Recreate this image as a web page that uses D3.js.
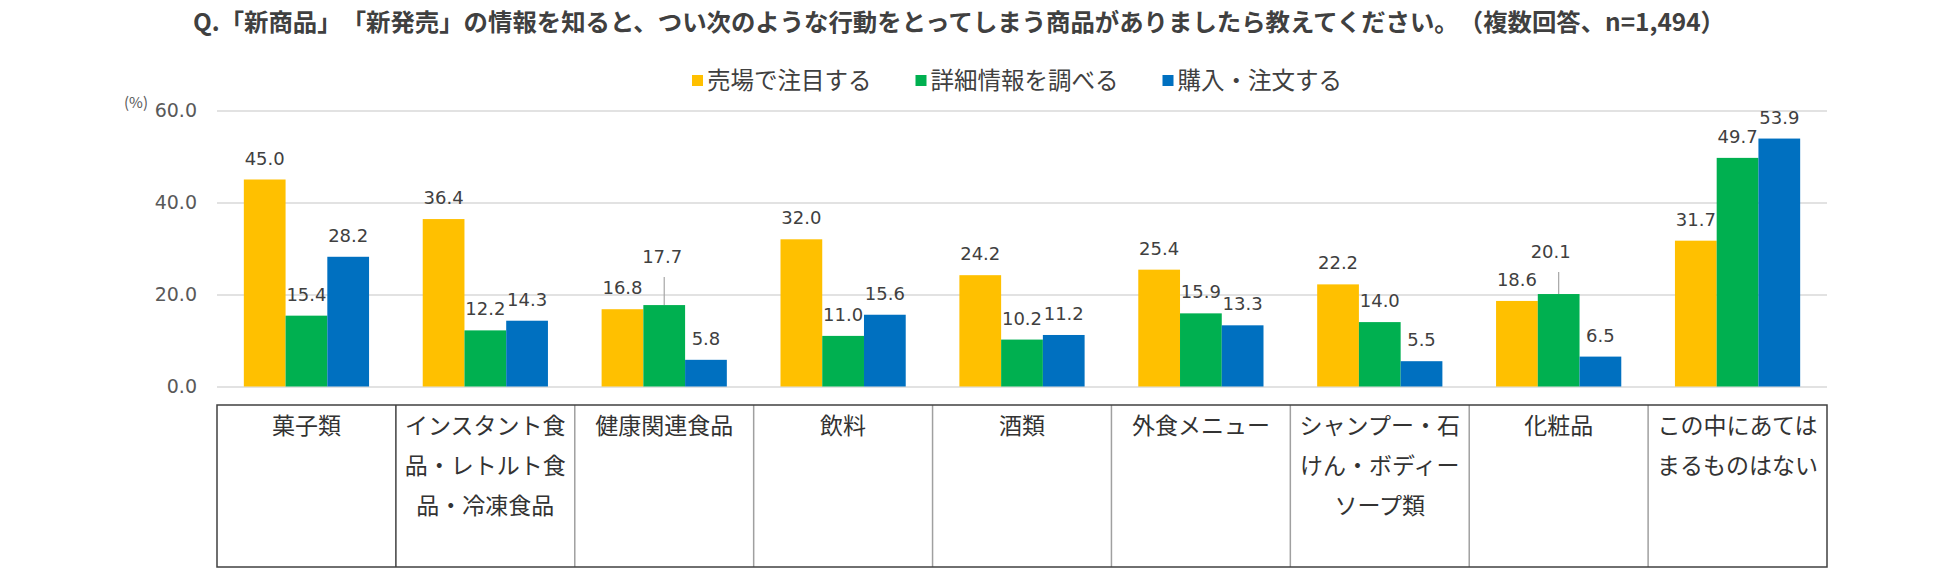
<!DOCTYPE html>
<html><head><meta charset="utf-8">
<script src="https://cdn.jsdelivr.net/npm/d3@7"></script>
<style>
html,body{margin:0;padding:0;background:#fff;}
svg{display:block;font-family:"Noto Sans CJK JP","Noto Sans",sans-serif;}
svg text{text-spacing-trim:space-all;}
.num{font-family:"DejaVu Sans",sans-serif;}
</style></head>
<body><svg id="c" width="1950" height="569"></svg>
<script>
const title = "Q.「新商品」「新発売」の情報を知ると、つい次のような行動をとってしまう商品がありましたら教えてください。（複数回答、n=1,494）";
const categories = ["菓子類","インスタント食品・レトルト食品・冷凍食品","健康関連食品","飲料","酒類","外食メニュー","シャンプー・石けん・ボディーソープ類","化粧品","この中にあてはまるものはない"];
const seriesNames = ["売場で注目する","詳細情報を調べる","購入・注文する"];
const seriesColors = ["#FFC000","#00B050","#0070C0"];
const notice   = [45.0,36.4,16.8,32.0,24.2,25.4,22.2,18.6,31.7];
const research = [15.4,12.2,17.7,11.0,10.2,15.9,14.0,20.1,49.7];
const purchase = [28.2,14.3,5.8,15.6,11.2,13.3,5.5,6.5,53.9];
const yTicks = [0,20,40,60];
const unitLabel = "(%)";

const seriesValues = [notice, research, purchase];
const svg = d3.select("#c");
const L = 217, R = 1827, T = 110.5, B = 386.5;
const x0 = d3.scaleBand().domain(categories).range([L,R]).paddingInner(0.3).paddingOuter(0.15);
const x1 = d3.scaleBand().domain(seriesNames).range([0,x0.bandwidth()]);
const y = d3.scaleLinear().domain([0,60]).range([B,T]);

// title
svg.append("text").attr("x",959).attr("y",31).attr("text-anchor","middle")
  .attr("font-size",24.4).attr("font-weight","bold").attr("fill","#404040").text(title);

// legend
const lg = svg.append("g");
let lx = 0;
seriesNames.forEach((s,i)=>{
  const g = lg.append("g").attr("transform",`translate(${lx},0)`);
  g.append("rect").attr("x",0).attr("y",-6).attr("width",11).attr("height",11).attr("fill",seriesColors[i]);
  const t = g.append("text").attr("x",15).attr("y",0).attr("dy","0.35em").attr("font-size",23.5).attr("fill","#404040").text(s);
  lx += 15 + t.node().getComputedTextLength() + 44;
});
lx -= 44;
lg.attr("transform",`translate(${1017 - lx/2},81)`);

// grid
const yAxis = d3.axisLeft(y).tickValues(yTicks).tickSize(-(R-L)).tickFormat(d3.format(".1f"));
const ga = svg.append("g").attr("transform",`translate(${L},0)`).call(yAxis);
ga.select(".domain").remove();
ga.selectAll(".tick line").attr("stroke","#d9d9d9").attr("stroke-width",1.3);
ga.selectAll(".tick text").attr("x",-20).attr("font-size",19).attr("fill","#595959")
  .attr("font-family","'DejaVu Sans',sans-serif");
svg.append("text").attr("x",148).attr("y",108).attr("text-anchor","end").attr("font-size",15).attr("fill","#595959").text(unitLabel);

// bars
const groups = svg.append("g").selectAll("g").data(categories).join("g")
  .attr("transform",d=>`translate(${x0(d)},0)`);
seriesNames.forEach((s,si)=>{
  groups.append("rect")
    .attr("x",x1(s)).attr("width",x1.bandwidth())
    .attr("y",(d,ci)=>y(seriesValues[si][ci]))
    .attr("height",(d,ci)=>B - y(seriesValues[si][ci]))
    .attr("fill",seriesColors[si]);
});

// labels (a couple use leader lines)
const leaders = {"健康関連食品|1":{lift:27,dx:-2},"化粧品|1":{lift:21,dx:-8}};
seriesNames.forEach((s,si)=>{
  categories.forEach((c,ci)=>{
    const v = seriesValues[si][ci];
    const cx = x0(c) + x1(s) + x1.bandwidth()/2;
    const top = y(v);
    const ld = leaders[c+"|"+si];
    let base = top - 15;
    let dx = 0;
    if (ld){
      base = top - 15 - ld.lift; dx = ld.dx;
      svg.append("line").attr("x1",cx).attr("x2",cx).attr("y1",base+14).attr("y2",top)
        .attr("stroke","#a6a6a6").attr("stroke-width",1.2);
    }
    svg.append("text").attr("class","num").attr("x",cx+dx).attr("y",base).attr("text-anchor","middle")
      .attr("font-size",18).attr("fill","#404040").text(d3.format(".1f")(v));
  });
});

// table
const tT = 405, tB = 567;
const tbl = svg.append("g");
categories.forEach((c,ci)=>{
  const xs = x0.step();
  const left = L + ci*xs;
  const cx = left + xs/2;
  const t = tbl.append("text").attr("text-anchor","middle").attr("font-size",23).attr("fill","#333");
  const chars = Array.from(c);
  let lines = [], cur = "";
  const meas = tbl.append("text").attr("font-size",23).attr("visibility","hidden");
  chars.forEach(ch=>{
    meas.text(cur+ch);
    if (meas.node().getComputedTextLength() > 170 && cur){ lines.push(cur); cur = ch; }
    else cur += ch;
  });
  if (cur) lines.push(cur);
  meas.remove();
  lines.forEach((ln,li)=>{
    t.append("tspan").attr("x",cx).attr("y",426 + li*40).attr("dy","0.35em").text(ln);
  });
  if (ci>0){
    tbl.append("line").attr("x1",left).attr("x2",left).attr("y1",tT).attr("y2",tB)
      .attr("stroke", ci===1 ? "#404040" : "#a0a0a0").attr("stroke-width",1.5);
  }
});
tbl.append("rect").attr("x",L).attr("y",tT).attr("width",R-L).attr("height",tB-tT)
  .attr("fill","none").attr("stroke","#404040").attr("stroke-width",1.5);
</script></body></html>
